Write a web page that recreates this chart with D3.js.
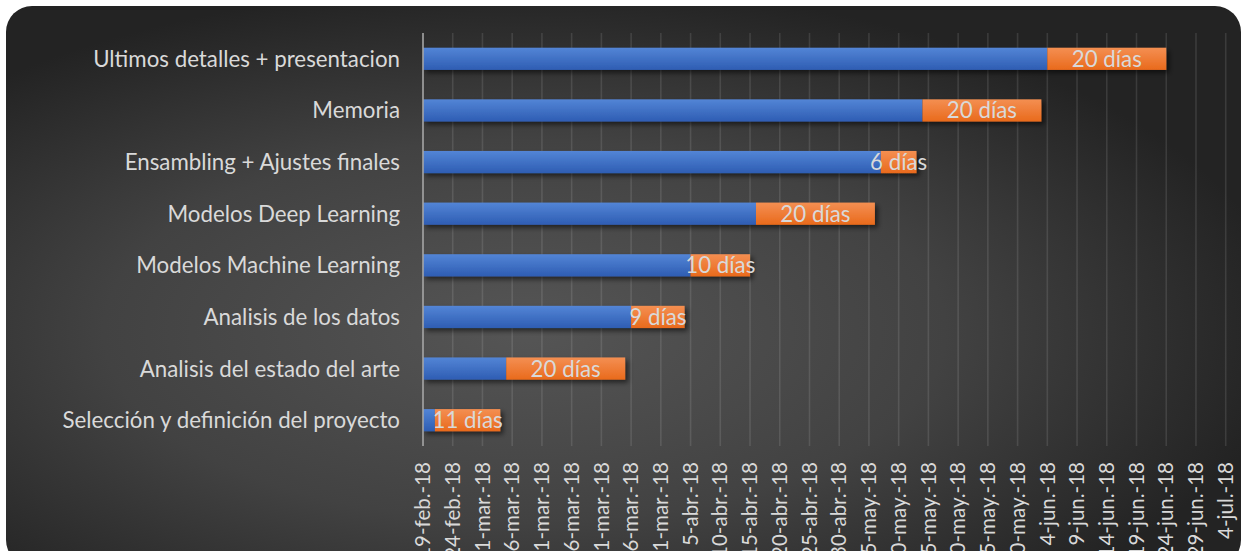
<!DOCTYPE html>
<html>
<head>
<meta charset="utf-8">
<script src="https://cdn.jsdelivr.net/npm/d3@7"></script>
<style>
  html, body { margin: 0; padding: 0; background: #ffffff; }
  svg { display: block; }
</style>
</head>
<body>
<svg id="chart" width="1246" height="551"></svg>
<script>
// Project tasks (the first one is drawn at the bottom)
const tasks = [
  "Selección y definición del proyecto",
  "Analisis del estado del arte",
  "Analisis de los datos",
  "Modelos Machine Learning",
  "Modelos Deep Learning",
  "Ensambling + Ajustes finales",
  "Memoria",
  "Ultimos detalles + presentacion"
];
const startDates = [
  "2018-02-21", "2018-03-05", "2018-03-26", "2018-04-05",
  "2018-04-16", "2018-05-07", "2018-05-14", "2018-06-04"
];
const durations = [11, 20, 9, 10, 20, 6, 20, 20];

// Date axis: 19-feb-18 to 4-jul-18 with a major unit of 5 days
const axisStart = "2018-02-19";
const axisEnd = "2018-07-04";
const tickStepDays = 5;
const monthAbbr = ["ene.", "feb.", "mar.", "abr.", "may.", "jun.", "jul.", "ago.", "sep.", "oct.", "nov.", "dic."];

const parse = d3.utcParse("%Y-%m-%d");
const DAY = 86400000;
const fmt = d => `${d.getUTCDate()}-${monthAbbr[d.getUTCMonth()]}-${String(d.getUTCFullYear()).slice(2)}`;

const svg = d3.select("#chart");
const plot = { left: 423, right: 1225.7, top: 33, bottom: 446 };
const FONT = "Lato, 'Open Sans', sans-serif";

// Background panel
const defs = svg.append("defs");
const bg = defs.append("radialGradient").attr("id", "bgGrad")
  .attr("cx", "42%").attr("cy", "58%").attr("r", "62%");
bg.append("stop").attr("offset", "0%").attr("stop-color", "#555555");
bg.append("stop").attr("offset", "55%").attr("stop-color", "#424242");
bg.append("stop").attr("offset", "100%").attr("stop-color", "#232323");

const blueGrad = defs.append("linearGradient").attr("id", "blueGrad")
  .attr("x1", 0).attr("y1", 0).attr("x2", 0).attr("y2", 1);
blueGrad.append("stop").attr("offset", "0%").attr("stop-color", "#5385d6");
blueGrad.append("stop").attr("offset", "100%").attr("stop-color", "#2e5db3");

const orangeGrad = defs.append("linearGradient").attr("id", "orangeGrad")
  .attr("x1", 0).attr("y1", 0).attr("x2", 0).attr("y2", 1);
orangeGrad.append("stop").attr("offset", "0%").attr("stop-color", "#f48f52");
orangeGrad.append("stop").attr("offset", "100%").attr("stop-color", "#e96a1c");

const shadow = defs.append("filter").attr("id", "barShadow")
  .attr("x", "-5%").attr("y", "-40%").attr("width", "115%").attr("height", "190%");
shadow.append("feDropShadow").attr("dx", 3).attr("dy", 3).attr("stdDeviation", 2.5)
  .attr("flood-color", "#000").attr("flood-opacity", 0.55);

svg.append("rect")
  .attr("x", 6).attr("y", 6).attr("width", 1235).attr("height", 560)
  .attr("rx", 26).attr("ry", 26)
  .attr("fill", "url(#bgGrad)");

// Scales
const x = d3.scaleUtc()
  .domain([parse(axisStart), parse(axisEnd)])
  .range([plot.left, plot.right]);

const y = d3.scaleBand()
  .domain(tasks.slice().reverse())
  .range([plot.top, plot.bottom])
  .paddingInner(0.57).paddingOuter(0.285);

const tickValues = d3.utcDay.range(parse(axisStart), new Date(+parse(axisEnd) + 1), tickStepDays);

// Gridlines
svg.append("g").selectAll("line")
  .data(tickValues.slice(1))
  .join("line")
  .attr("x1", d => x(d)).attr("x2", d => x(d))
  .attr("y1", plot.top).attr("y2", plot.bottom)
  .attr("stroke", "#ffffff").attr("stroke-opacity", 0.11).attr("stroke-width", 1.6);

// Bars: a blue lead-in from the axis start, then the task duration in orange
const rows = tasks.map((t, i) => {
  const s = parse(startDates[i]);
  const e = new Date(+s + durations[i] * DAY);
  return { task: t, start: s, end: e, days: durations[i] };
});

const bars = svg.append("g").attr("filter", "url(#barShadow)");
bars.selectAll("rect.blue")
  .data(rows).join("rect").attr("class", "blue")
  .attr("x", x(parse(axisStart)))
  .attr("y", d => y(d.task))
  .attr("width", d => x(d.start) - x(parse(axisStart)))
  .attr("height", y.bandwidth())
  .attr("fill", "url(#blueGrad)");
bars.selectAll("rect.orange")
  .data(rows).join("rect").attr("class", "orange")
  .attr("x", d => x(d.start))
  .attr("y", d => y(d.task))
  .attr("width", d => x(d.end) - x(d.start))
  .attr("height", y.bandwidth())
  .attr("fill", "url(#orangeGrad)");

// Vertical axis line
svg.append("line")
  .attr("x1", plot.left).attr("x2", plot.left)
  .attr("y1", plot.top).attr("y2", plot.bottom)
  .attr("stroke", "#a6a6a6").attr("stroke-width", 1.6);

// Duration labels centred on the orange segments
svg.append("g").selectAll("text")
  .data(rows).join("text")
  .attr("x", d => (x(d.start) + x(d.end)) / 2)
  .attr("y", d => y(d.task) + y.bandwidth() / 2)
  .attr("dy", "0.36em")
  .attr("text-anchor", "middle")
  .attr("font-family", FONT)
  .attr("font-size", 22.3)
  .attr("fill", "#d9d9d9")
  .text(d => `${d.days} días`);

// Category labels
svg.append("g").selectAll("text")
  .data(tasks).join("text")
  .attr("x", 400)
  .attr("y", d => y(d) + y.bandwidth() / 2)
  .attr("dy", "0.36em")
  .attr("text-anchor", "end")
  .attr("font-family", FONT)
  .attr("font-size", 22.3)
  .attr("fill", "#d9d9d9")
  .text(d => d);

// Date tick labels, rotated
svg.append("g").selectAll("text")
  .data(tickValues).join("text")
  .attr("transform", d => `translate(${x(d)},${plot.bottom + 16}) rotate(-90)`)
  .attr("dy", "0.35em")
  .attr("text-anchor", "end")
  .attr("font-family", FONT)
  .attr("font-size", 20.5)
  .attr("fill", "#d9d9d9")
  .text(d => fmt(d));
</script>
</body>
</html>
